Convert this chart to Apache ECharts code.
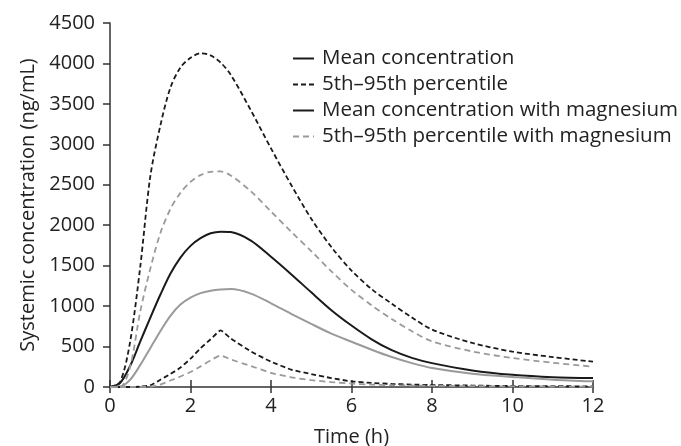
<!DOCTYPE html>
<html style="height: 100%">
   <head>
       <meta charset="utf-8">
       <title>Systemic concentration</title>
       <script src="https://cdn.jsdelivr.net/npm/echarts@6/dist/echarts.min.js"></script>
   </head>
   <body style="height: 100%; margin: 0; background: #fff">
       <div id="container" style="width: 681px; height: 446px"></div>
       <script type="text/javascript">

// time grid (h)
const times = [0, 0.25, 0.5, 0.75, 1, 1.25, 1.5, 1.75, 2, 2.25, 2.5, 2.75, 3,
    3.5, 4, 4.5, 5, 5.5, 6, 6.5, 7, 7.5, 8, 9, 10, 11, 12];

// concentrations (ng/mL)
const meanConc = [0, 50, 260, 560, 855, 1140, 1400, 1600, 1745, 1840, 1900, 1920, 1915,
    1810, 1610, 1395, 1170, 950, 760, 590, 455, 360, 295, 205, 150, 120, 110];
const meanConcMg = [0, 5, 90, 270, 480, 690, 880, 1020, 1105, 1160, 1190, 1205, 1210,
    1155, 1035, 905, 780, 660, 560, 460, 370, 295, 235, 165, 125, 90, 70];
const p95 = [0, 60, 560, 1480, 2600, 3230, 3700, 3950, 4070, 4125, 4100, 4010, 3860,
    3420, 2950, 2500, 2080, 1730, 1440, 1210, 1030, 860, 710, 545, 437, 370, 313];
const p5 = [0, 0, 0, 5, 20, 90, 160, 240, 350, 480, 590, 700, 600,
    440, 313, 215, 160, 110, 70, 50, 38, 30, 25, 18, 12, 10, 8];
const p95Mg = [0, 0, 250, 930, 1460, 1900, 2200, 2400, 2535, 2620, 2660, 2665, 2615,
    2420, 2170, 1920, 1680, 1430, 1200, 1010, 840, 690, 565, 440, 358, 300, 251];
const p5Mg = [0, 0, 0, 2, 5, 30, 80, 130, 185, 255, 330, 390, 340,
    260, 175, 120, 85, 60, 42, 30, 22, 18, 15, 10, 8, 6, 5];

const legendNames = ['Mean concentration', '5th\u201395th percentile',
    'Mean concentration with magnesium', '5th\u201395th percentile with magnesium'];

const dark = '#1a1a1a';
const grey = '#9a9a9a';
const font = 'Open Sans';

function pairs(vals) {
    return times.map((t, i) => [t, vals[i]]);
}

function line(name, vals, color, type, width, smooth) {
    return {
        name: name,
        type: 'line',
        data: pairs(vals),
        symbol: 'none',
        smooth: smooth,
        silent: true,
        lineStyle: { color: color, width: width, type: type },
        itemStyle: { color: color }
    };
}

let chart = echarts.init(document.getElementById('container'));

chart.setOption({
    animation: false,
    textStyle: { fontFamily: font },
    grid: { left: 110, right: 88, top: 23, bottom: 59, outerBoundsMode: 'none' },
    legend: {
        orient: 'vertical',
        left: 287,
        top: 43,
        itemWidth: 21,
        itemHeight: 14,
        itemGap: 5,
        itemStyle: { opacity: 0 },
        textStyle: { fontSize: 20.5, color: '#222', fontFamily: font, lineHeight: 20, padding: [0, 0, 0, 3] },
        data: [
            { name: legendNames[0] },
            { name: legendNames[1] },
            { name: legendNames[2], lineStyle: { color: dark } },
            { name: legendNames[3] }
        ]
    },
    xAxis: [{
        type: 'value',
        min: 0, max: 12, interval: 2,
        name: 'Time (h)',
        nameLocation: 'middle',
        nameGap: 40,
        nameTextStyle: { fontSize: 20, color: '#222' },
        axisLine: { lineStyle: { color: '#333', width: 1.5 } },
        axisTick: { length: 6, lineStyle: { color: '#333', width: 1.5 } },
        axisLabel: { fontSize: 20, color: '#222', margin: 9 },
        splitLine: { show: false }
    }, {
        type: 'value',
        position: 'bottom',
        offset: 0,
        min: 0, max: 12, interval: 2,
        axisLine: { show: false },
        axisTick: { inside: true, length: 7, lineStyle: { color: '#333', width: 1.5 } },
        axisLabel: { show: false },
        splitLine: { show: false }
    }],
    yAxis: {
        type: 'value',
        min: 0, max: 4500, interval: 500,
        name: 'Systemic concentration (ng/mL)',
        nameLocation: 'middle',
        nameGap: 72,
        nameTextStyle: { fontSize: 20, color: '#222' },
        axisLine: { show: true, lineStyle: { color: '#333', width: 1.5 } },
        axisTick: { show: true, length: 7, lineStyle: { color: '#333', width: 1.5 } },
        axisLabel: { fontSize: 20, color: '#222', margin: 15, formatter: v => String(v) },
        splitLine: { show: false }
    },
    series: [
        line(legendNames[0], meanConc, dark, 'solid', 2, 0.3),
        line(legendNames[1], p95, dark, [5, 3], 1.8, 0.3),
        line(legendNames[2], meanConcMg, grey, 'solid', 2, 0.3),
        line(legendNames[3], p95Mg, grey, [6, 4], 1.8, 0.3),
        line(legendNames[1], p5, dark, [5, 3], 1.8, 0.15),
        line(legendNames[3], p5Mg, grey, [6, 4], 1.8, 0.15)
    ]
});

       </script>
   </body>
</html>
